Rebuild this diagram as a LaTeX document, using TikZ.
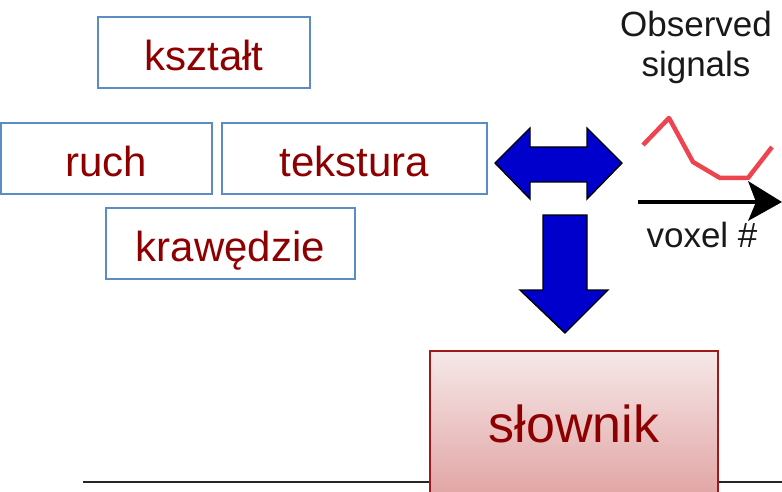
\documentclass[tikz,border=0pt]{standalone}
\usepackage{fontspec}
\setmainfont{Liberation Sans}
\definecolor{txtred}{HTML}{8E0000}
\definecolor{boxblue}{HTML}{5B8CC6}
\definecolor{arrblue}{HTML}{0000CC}
\definecolor{sigred}{HTML}{EE4450}
\definecolor{dictborder}{HTML}{A01818}
\definecolor{dicttop}{HTML}{F6E8E8}
\definecolor{dictbot}{HTML}{E2A6A6}
\begin{document}
\begin{tikzpicture}[x=1pt,y=-1pt,
  featbox/.style={draw=boxblue,line width=1.6pt,rectangle,minimum height=71pt,inner sep=0pt,
    text=txtred,font=\fontsize{42}{48}\selectfont,text height=36pt,text depth=0pt},
  dictbox/.style={draw=dictborder,line width=1.4pt,rectangle,inner sep=0pt,
    top color=dicttop,bottom color=dictbot,text=txtred,
    font=\fontsize{52}{60}\selectfont,text height=40pt,text depth=0pt},
  blockarrow/.style={fill=arrblue,draw=black,line width=1.4pt,line join=miter},
  plottext/.style={inner sep=0pt,font=\fontsize{35}{40}\selectfont,text=black!90}]
\useasboundingbox (0,0) rectangle (782,492);

% boxes
\node[featbox,minimum width=212pt] (ksztalt) at (204,52.5) {kształt};
\node[featbox,minimum width=211pt] (ruch) at (106.5,158.5) {ruch};
\node[featbox,minimum width=265pt] (tekstura) at (354.5,158.5) {tekstura};
\node[featbox,minimum width=249pt] (krawedzie) at (230.5,243.5) {krawędzie};

% bottom rule
\coordinate (ruleL) at (83,481.5);
\coordinate (ruleR) at (782,481.5);
\draw[line width=2pt,black!85] (ruleL) -- (ruleR);

% dictionary box
\node[dictbox,minimum width=288pt,minimum height=142pt] (slownik) at (574,422) {słownik};

% block arrows
\draw[blockarrow] (495,163) -- (530,128) -- (530,147) -- (587,147) -- (587,128) -- (622,163)
  -- (587,199) -- (587,182) -- (530,182) -- (530,199) -- cycle;
\draw[blockarrow] (543,215) -- (587,215) -- (587,290) -- (608,290) -- (565,333)
  -- (520,290) -- (543,290) -- cycle;

% observed signal plot
\node[plottext,align=center] (obs) at (696,47) {Observed\\signals};
\draw[sigred,line width=4.5pt,line join=round] (643,145) -- (669,118) -- (693,162) -- (720,178) -- (748,178) -- (772,147);
\coordinate (axL) at (638,202);
\coordinate (axR) at (760,202);
\draw[black,line width=4pt] (axL) -- (axR);
\fill[black] (782,202) -- (748,181) -- (756,202) -- (748,221) -- cycle;
\node[plottext,anchor=base] (voxel) at (702,247) {voxel \#};
\end{tikzpicture}
\end{document}
